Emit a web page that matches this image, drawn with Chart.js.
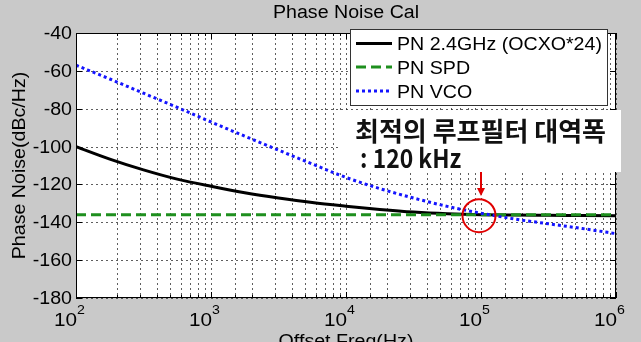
<!DOCTYPE html>
<html>
<head>
<meta charset="utf-8">
<script src="https://cdn.jsdelivr.net/npm/chart.js@4.4.1/dist/chart.umd.min.js"></script>
<style>
  html, body { margin: 0; padding: 0; background: #c9c9c9; }
  #wrap { width: 641px; height: 342px; }
</style>
</head>
<body>
<div id="wrap"><canvas id="chart" width="641" height="342"></canvas></div>
<script>
// offset frequencies (Hz), quarter decades from 10^2 to 10^6
const freqs = [100, 178, 316, 562, 1000, 1778, 3162, 5623, 10000, 17783, 31623, 56234,
  100000, 177828, 316228, 562341, 1000000];
// phase noise (dBc/Hz)
const pnTotal = [-100, -106.6, -112.3, -117.2, -121, -124.4, -127.2, -129.6, -131.5, -133.2, -134.6, -135.5,
  -136, -136.2, -136.3, -136.4, -136.5];
const pnSpd = [-136, -136, -136, -136, -136, -136, -136, -136, -136, -136, -136, -136,
  -136, -136, -136, -136, -136];
const pnVco = [-57, -64.3, -71.8, -79.3, -87, -94.5, -101.9, -109.2, -116.3, -122.2, -127.2, -131.6,
  -135.2, -138.3, -140.8, -143.3, -146];
const seriesNames = ['PN 2.4GHz (OCXO*24)', 'PN SPD', 'PN VCO'];
const yTicks = [-40, -60, -80, -100, -120, -140, -160, -180];
const xTicks = [100, 1000, 10000, 100000, 1000000];

const FONT = 'Arial, "Liberation Sans", sans-serif';
const SX = 1.09; // the original text is a bit wider than Arial

function txt(ctx, s, x, y, size, align, base) {
  ctx.save();
  ctx.translate(x, y);
  ctx.scale(SX, 1);
  ctx.font = size + 'px ' + FONT;
  ctx.fillStyle = '#000';
  ctx.textAlign = align || 'left';
  ctx.textBaseline = base || 'alphabetic';
  ctx.fillText(s, 0, 0);
  ctx.restore();
}

const matlabLook = {
  id: 'matlabLook',
  beforeDraw(chart) {
    const { ctx, chartArea: a } = chart;
    ctx.save();
    ctx.fillStyle = '#c9c9c9';
    ctx.fillRect(0, 0, chart.width, chart.height);
    ctx.fillStyle = '#fff';
    ctx.fillRect(a.left, a.top, a.right - a.left, a.bottom - a.top);
    ctx.restore();
  },
  beforeDatasetsDraw(chart) {
    // dotted grid, major + minor on the log axis
    const { ctx, chartArea: a } = chart;
    const xs = chart.scales.x, ys = chart.scales.y;
    ctx.save();
    ctx.strokeStyle = 'rgba(40,40,40,0.75)';
    ctx.lineWidth = 1;
    ctx.setLineDash([2, 3]);
    ctx.beginPath();
    xs.ticks.forEach(t => {
      const px = Math.round(xs.getPixelForValue(t.value)) + 0.5;
      ctx.moveTo(px, a.top); ctx.lineTo(px, a.bottom);
    });
    yTicks.forEach(v => {
      const py = Math.round(ys.getPixelForValue(v)) + 0.5;
      ctx.moveTo(a.left, py); ctx.lineTo(a.right, py);
    });
    ctx.stroke();
    ctx.restore();
  },
  afterDraw(chart) {
    const { ctx, chartArea: a } = chart;
    const xs = chart.scales.x, ys = chart.scales.y;
    ctx.save();

    // axes box + inner ticks
    ctx.strokeStyle = '#000';
    ctx.lineWidth = 1;
    ctx.setLineDash([]);
    ctx.strokeRect(a.left + 0.5, a.top + 0.5, a.right - a.left - 1, a.bottom - a.top - 1);
    ctx.beginPath();
    xs.ticks.forEach(t => {
      const px = Math.round(xs.getPixelForValue(t.value)) + 0.5;
      const major = Math.abs(Math.log10(t.value) % 1) < 1e-6;
      const len = major ? 6 : 3;
      ctx.moveTo(px, a.bottom); ctx.lineTo(px, a.bottom - len);
      ctx.moveTo(px, a.top); ctx.lineTo(px, a.top + len);
    });
    yTicks.forEach(v => {
      const py = Math.round(ys.getPixelForValue(v)) + 0.5;
      ctx.moveTo(a.left, py); ctx.lineTo(a.left + 6, py);
      ctx.moveTo(a.right, py); ctx.lineTo(a.right - 6, py);
    });
    ctx.stroke();

    // tick labels
    yTicks.forEach(v => {
      txt(ctx, String(v), a.left - 4, ys.getPixelForValue(v) + 1, 18, 'right', 'middle');
    });
    xTicks.forEach(v => {
      const px = xs.getPixelForValue(v);
      const e = String(Math.round(Math.log10(v)));
      txt(ctx, '10', px + 1, 326, 19, 'right');
      txt(ctx, e, px + 1, 314, 13, 'left');
    });

    // title and axis labels
    txt(ctx, 'Phase Noise Cal', (a.left + a.right) / 2, 18, 18, 'center');
    txt(ctx, 'Offset Freq(Hz)', (a.left + a.right) / 2, 347, 18, 'center');
    ctx.save();
    ctx.translate(25, (a.top + a.bottom) / 2);
    ctx.rotate(-Math.PI / 2);
    ctx.scale(SX, 1);
    ctx.font = '18px ' + FONT;
    ctx.fillStyle = '#000';
    ctx.textAlign = 'center';
    ctx.fillText('Phase Noise(dBc/Hz)', 0, 0);
    ctx.restore();

    // legend
    ctx.fillStyle = '#fff';
    ctx.fillRect(350, 29, 258, 77);
    ctx.strokeStyle = '#333';
    ctx.lineWidth = 1;
    ctx.strokeRect(350.5, 29.5, 257, 76);
    const rows = [43.5, 67, 91];
    chart.data.datasets.forEach((ds, i) => {
      ctx.save();
      ctx.strokeStyle = ds.borderColor;
      ctx.lineWidth = ds.borderWidth;
      ctx.setLineDash(ds.borderDash || []);
      ctx.beginPath();
      ctx.moveTo(356, rows[i]); ctx.lineTo(392, rows[i]);
      ctx.stroke();
      ctx.restore();
      txt(ctx, ds.label, 397, rows[i] + 6.5, 18, 'left');
    });

    // annotation
    ctx.fillStyle = '#fff';
    ctx.fillRect(340, 110, 281, 62);
    ctx.fillStyle = '#111';
    ctx.font = 'bold 26px "Noto Sans CJK KR"';
    ctx.textAlign = 'left';
    ctx.textBaseline = 'middle';
    ctx.fillText('최적의 루프필터 대역폭', 355, 131);
    ctx.save();
    ctx.translate(360, 168);
    ctx.scale(0.88, 1);
    ctx.textBaseline = 'alphabetic';
    ctx.fillText(': 120 kHz', 0, 0);
    ctx.restore();

    // red marker at the crossing
    const cx = xs.getPixelForValue(100000) - 2;
    const cy = ys.getPixelForValue(-136) + 1;
    ctx.strokeStyle = '#e00000';
    ctx.fillStyle = '#e00000';
    ctx.lineWidth = 2;
    ctx.beginPath();
    ctx.arc(cx, cy, 16.5, 0, Math.PI * 2);
    ctx.stroke();
    ctx.beginPath();
    ctx.moveTo(cx + 2, 172); ctx.lineTo(cx + 2, 189);
    ctx.stroke();
    ctx.beginPath();
    ctx.moveTo(cx - 2, 188); ctx.lineTo(cx + 6, 188); ctx.lineTo(cx + 2, 196);
    ctx.closePath();
    ctx.fill();

    ctx.restore();
  }
};

const toPts = ys => freqs.map((f, i) => ({ x: f, y: ys[i] }));

new Chart(document.getElementById('chart'), {
  type: 'line',
  data: {
    datasets: [
      { label: seriesNames[0], data: toPts(pnTotal), borderColor: '#000000', borderWidth: 3,
        pointRadius: 0, cubicInterpolationMode: 'monotone', order: 3 },
      { label: seriesNames[1], data: toPts(pnSpd), borderColor: '#1e8f1e', borderWidth: 3,
        borderDash: [10, 5], pointRadius: 0, order: 2 },
      { label: seriesNames[2], data: toPts(pnVco), borderColor: '#1414ff', borderWidth: 3,
        borderDash: [3, 3], pointRadius: 0, cubicInterpolationMode: 'monotone', order: 1 }
    ]
  },
  options: {
    responsive: false,
    animation: false,
    layout: { padding: { left: 0, right: 25, top: 33, bottom: 0 } },
    plugins: { legend: { display: false }, title: { display: false }, tooltip: { enabled: false } },
    scales: {
      x: {
        type: 'logarithmic', min: 100, max: 1000000,
        ticks: { display: false },
        grid: { display: false },
        border: { display: false },
        afterFit: s => { s.height = 44; }
      },
      y: {
        min: -180, max: -40,
        ticks: { display: false, stepSize: 20 },
        grid: { display: false },
        border: { display: false },
        afterFit: s => { s.width = 76; }
      }
    }
  },
  plugins: [matlabLook]
});
</script>
</body>
</html>
